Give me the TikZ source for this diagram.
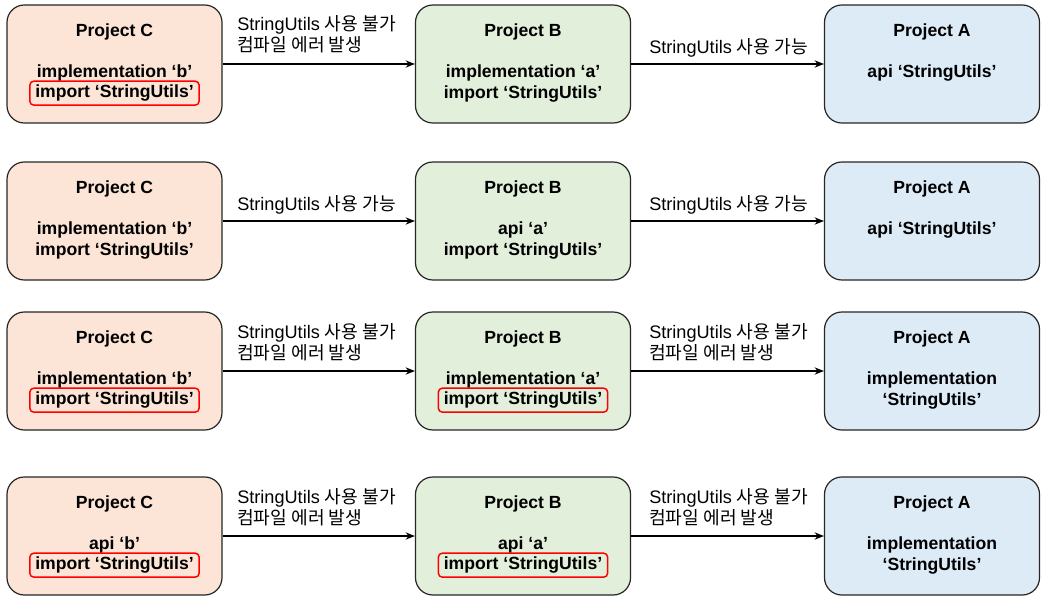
\documentclass[tikz,border=0pt]{standalone}
\usepackage{fontspec}
\setmainfont{Liberation Sans}
\newfontfamily\kr{Noto Sans CJK KR}
\usetikzlibrary{arrows.meta}
\definecolor{cfill}{HTML}{FCE4D6}
\definecolor{bfill}{HTML}{E2EFDA}
\definecolor{afill}{HTML}{DDEBF7}
\definecolor{hlred}{HTML}{FF0000}
\begin{document}
\begin{tikzpicture}[x=0.75pt,y=-0.75pt,
  proj/.style={draw=black!85, line width=0.9pt, rounded corners=13pt, minimum width=161.25pt, minimum height=88.5pt, inner sep=0pt},
  cbox/.style={proj, fill=cfill},
  bbox/.style={proj, fill=bfill},
  abox/.style={proj, fill=afill},
  txt/.style={font=\bfseries\fontsize{13.2}{15}\selectfont, inner sep=0pt, yshift=-1.5pt},
  hl/.style={txt, draw=hlred, line width=1.1pt, rounded corners=3pt, minimum width=127pt, minimum height=18pt, yshift=1pt},
  lbl/.style={font=\fontsize{13.6}{15.75}\selectfont, align=left, inner sep=0pt, anchor=west, yshift=-1.5pt},
  arr/.style={-{Stealth[length=7pt,width=5.5pt]}, line width=0.9pt}]
\useasboundingbox (0,0) rectangle (1044,599);

% ---------- Row 1 ----------
\node[cbox] (c1) at (114.5,64) {};
\node[bbox] (b1) at (523,64) {};
\node[abox] (a1) at (932,64) {};
\node[txt] (c1t) at (114.5,30) {Project C};
\node[txt] (c1l1) at (114.5,71) {implementation ‘b’};
\node[hl] (c1l2) at (114.5,92.5) {import ‘StringUtils’};
\node[txt] (b1t) at (523,30) {Project B};
\node[txt] (b1l1) at (523,71) {implementation ‘a’};
\node[txt] (b1l2) at (523,92) {import ‘StringUtils’};
\node[txt] (a1t) at (932,30) {Project A};
\node[txt] (a1l1) at (932,71) {api ‘StringUtils’};
\draw[arr] (c1) -- (b1);
\draw[arr] (b1) -- (a1);
\node[lbl] (l1a) at (237,32.5) {StringUtils {\kr 사용 불가}\\{\kr 컴파일 에러 발생}};
\node[lbl] (l1b) at (649,46) {StringUtils {\kr 사용 가능}};

% ---------- Row 2 ----------
\node[cbox] (c2) at (114.5,221) {};
\node[bbox] (b2) at (523,221) {};
\node[abox] (a2) at (932,221) {};
\node[txt] (c2t) at (114.5,187) {Project C};
\node[txt] (c2l1) at (114.5,228) {implementation ‘b’};
\node[txt] (c2l2) at (114.5,249) {import ‘StringUtils’};
\node[txt] (b2t) at (523,187) {Project B};
\node[txt] (b2l1) at (523,228) {api ‘a’};
\node[txt] (b2l2) at (523,249) {import ‘StringUtils’};
\node[txt] (a2t) at (932,187) {Project A};
\node[txt] (a2l1) at (932,228) {api ‘StringUtils’};
\draw[arr] (c2) -- (b2);
\draw[arr] (b2) -- (a2);
\node[lbl] (l2a) at (237,203) {StringUtils {\kr 사용 가능}};
\node[lbl] (l2b) at (649,203) {StringUtils {\kr 사용 가능}};

% ---------- Row 3 ----------
\node[cbox] (c3) at (114.5,371) {};
\node[bbox] (b3) at (523,371) {};
\node[abox] (a3) at (932,371) {};
\node[txt] (c3t) at (114.5,337) {Project C};
\node[txt] (c3l1) at (114.5,378) {implementation ‘b’};
\node[hl] (c3l2) at (114.5,399.5) {import ‘StringUtils’};
\node[txt] (b3t) at (523,337) {Project B};
\node[txt] (b3l1) at (523,378) {implementation ‘a’};
\node[hl] (b3l2) at (523,399.5) {import ‘StringUtils’};
\node[txt] (a3t) at (932,337) {Project A};
\node[txt] (a3l1) at (932,378) {implementation};
\node[txt] (a3l2) at (932,399) {‘StringUtils’};
\draw[arr] (c3) -- (b3);
\draw[arr] (b3) -- (a3);
\node[lbl] (l3a) at (237,340.5) {StringUtils {\kr 사용 불가}\\{\kr 컴파일 에러 발생}};
\node[lbl] (l3b) at (649,340.5) {StringUtils {\kr 사용 불가}\\{\kr 컴파일 에러 발생}};

% ---------- Row 4 ----------
\node[cbox] (c4) at (114.5,536) {};
\node[bbox] (b4) at (523,536) {};
\node[abox] (a4) at (932,536) {};
\node[txt] (c4t) at (114.5,502) {Project C};
\node[txt] (c4l1) at (114.5,543) {api ‘b’};
\node[hl] (c4l2) at (114.5,564.5) {import ‘StringUtils’};
\node[txt] (b4t) at (523,502) {Project B};
\node[txt] (b4l1) at (523,543) {api ‘a’};
\node[hl] (b4l2) at (523,564.5) {import ‘StringUtils’};
\node[txt] (a4t) at (932,502) {Project A};
\node[txt] (a4l1) at (932,543) {implementation};
\node[txt] (a4l2) at (932,564) {‘StringUtils’};
\draw[arr] (c4) -- (b4);
\draw[arr] (b4) -- (a4);
\node[lbl] (l4a) at (237,505.5) {StringUtils {\kr 사용 불가}\\{\kr 컴파일 에러 발생}};
\node[lbl] (l4b) at (649,505.5) {StringUtils {\kr 사용 불가}\\{\kr 컴파일 에러 발생}};
\end{tikzpicture}
\end{document}
